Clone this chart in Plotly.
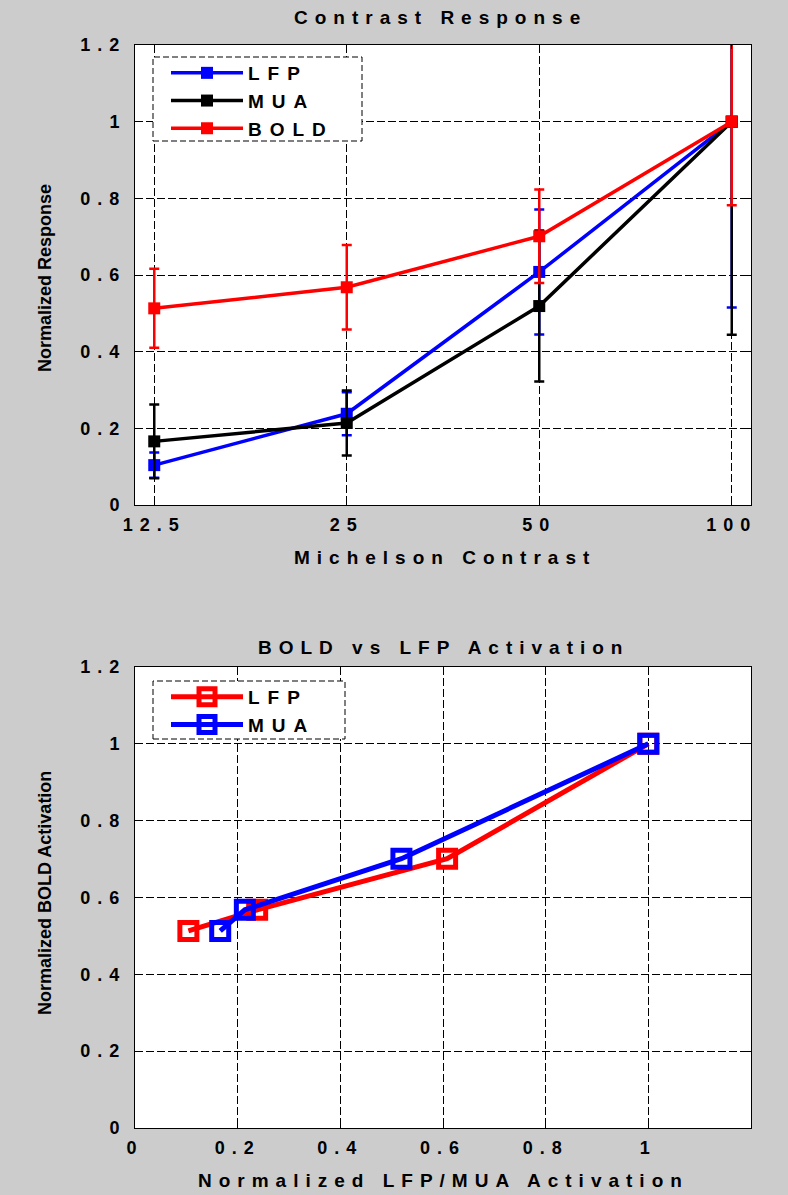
import math
import plotly.graph_objects as go

# ---------------- data ----------------
contrast = [12.5, 25, 50, 100]
contrast_labels = ["12.5", "25", "50", "100"]

lfp = [0.104, 0.238, 0.608, 1.0]
lfp_err = [0.033, 0.056, 0.163, 0.485]
mua = [0.166, 0.214, 0.519, 1.0]
mua_err = [0.096, 0.085, 0.197, 0.556]
bold = [0.513, 0.568, 0.701, 1.0]
bold_err = [0.103, 0.110, 0.122, 0.218]

resp_ticks = [0, 0.2, 0.4, 0.6, 0.8, 1.0, 1.2]
resp_tick_labels = ["0", "0.2", "0.4", "0.6", "0.8", "1", "1.2"]
act_ticks = [0, 0.2, 0.4, 0.6, 0.8, 1.0]
act_tick_labels = ["0", "0.2", "0.4", "0.6", "0.8", "1"]

# ---------------- styling ----------------
W, H = 788, 1195
BG = "#cccccc"
FONT = "Liberation Sans, Arial, sans-serif"
LS = 7  # letter spacing (px)


def sp(s, ls=LS):
    return f'<span style="letter-spacing:{ls}px">{s}</span>'


def px_x(p):
    return p / W


def px_y(p):
    return 1 - p / H


fig = go.Figure()

# ---- top: contrast response ----
series = [("LFP", lfp, lfp_err, "#0000ff"),
          ("MUA", mua, mua_err, "#000000"),
          ("BOLD", bold, bold_err, "#ff0000")]
for name, vals, errs, col in series:
    fig.add_trace(go.Scatter(
        x=contrast, y=vals, name=sp(name, 8), mode="lines+markers",
        line=dict(color=col, width=3.5),
        marker=dict(symbol="square", size=12, color=col),
        error_y=dict(type="data", array=errs, visible=True, color=col,
                     thickness=2.5, width=5),
        xaxis="x", yaxis="y", legend="legend", showlegend=True))

# ---- bottom: BOLD vs activation ----
for name, xs, col in [("LFP", lfp, "#ff0000"), ("MUA", mua, "#0000ff")]:
    fig.add_trace(go.Scatter(
        x=xs, y=bold, name=sp(name, 8), mode="lines+markers",
        line=dict(color=col, width=5),
        marker=dict(symbol="square-open", size=17, color=col,
                    line=dict(width=5, color=col)),
        xaxis="x2", yaxis="y2", legend="legend2"))

tickfont = dict(family=FONT, size=18, color="black", weight="bold")
grid = dict(showgrid=True, gridcolor="black", gridwidth=1, griddash="8px,3px",
            zeroline=False, showline=True, linecolor="black", linewidth=1,
            mirror="ticks", ticks="inside", ticklen=4, tickcolor="black",
            tickfont=tickfont, automargin=False)

x_dom = [px_x(135), px_x(751)]
lo = math.log10(contrast[0]) - 0.1 * math.log10(2)
hi = math.log10(contrast[-1]) + 0.1 * math.log10(2)

fig.update_layout(
    width=W, height=H,
    paper_bgcolor=BG, plot_bgcolor="white",
    margin=dict(l=0, r=0, t=0, b=0),
    font=dict(family=FONT, color="black"),
    xaxis=dict(domain=x_dom, type="log", range=[lo, hi],
               tickvals=contrast, ticktext=[sp(t) for t in contrast_labels],
               anchor="y", ticklabelstandoff=3, **grid),
    yaxis=dict(domain=[px_y(505), px_y(45)], range=[0, 1.2],
               tickvals=resp_ticks, ticktext=[sp(t) for t in resp_tick_labels],
               anchor="x", ticklabelstandoff=4, **grid),
    xaxis2=dict(domain=x_dom, range=[0, 1.2],
                tickvals=act_ticks, ticktext=[sp(t) for t in act_tick_labels],
                anchor="y2", ticklabelstandoff=3, **grid),
    yaxis2=dict(domain=[px_y(1128), px_y(667)], range=[0, 1.2],
                tickvals=resp_ticks, ticktext=[sp(t) for t in resp_tick_labels],
                anchor="x2", ticklabelstandoff=4, **grid),
    legend=dict(x=px_x(166), y=px_y(54), xanchor="left", yanchor="top",
                bgcolor="rgba(0,0,0,0)", borderwidth=0, itemwidth=72,
                tracegroupgap=0,
                font=dict(family=FONT, size=19, color="black", weight="bold")),
    legend2=dict(x=px_x(166), y=px_y(678), xanchor="left", yanchor="top",
                 bgcolor="rgba(0,0,0,0)", borderwidth=0, itemwidth=72,
                 tracegroupgap=0,
                 font=dict(family=FONT, size=19, color="black", weight="bold")),
)

# legend boxes (dashed)
for (x0, y0, x1, y1) in [(153, 57, 362, 141), (153, 681, 345, 739)]:
    fig.add_shape(type="rect", xref="paper", yref="paper",
                  x0=px_x(x0), x1=px_x(x1), y0=px_y(y1), y1=px_y(y0),
                  fillcolor="white", layer="above",
                  line=dict(color="black", width=1, dash="6px,3px"))

ann_font = dict(family=FONT, size=19, color="black", weight="bold")
yt_font = dict(family=FONT, size=18, color="black", weight="bold")
anns = [
    (sp("Contrast Response"), 440, 17, 0, ann_font),
    (sp("Michelson Contrast"), 445, 557, 0, ann_font),
    ("Normalized Response", 45, 278, -90, yt_font),
    (sp("BOLD vs LFP Activation"), 443, 647, 0, ann_font),
    (sp("Normalized LFP/MUA Activation"), 443, 1180, 0, ann_font),
    ("Normalized BOLD Activation", 45, 893, -90, yt_font),
]
for text, x, y, ang, f in anns:
    fig.add_annotation(text=text, xref="paper", yref="paper",
                       x=px_x(x), y=px_y(y), xanchor="center", yanchor="middle",
                       showarrow=False, textangle=ang, font=f)

fig.write_html("out.html", config={"displayModeBar": False},
               post_script="document.body.style.margin='0';")
